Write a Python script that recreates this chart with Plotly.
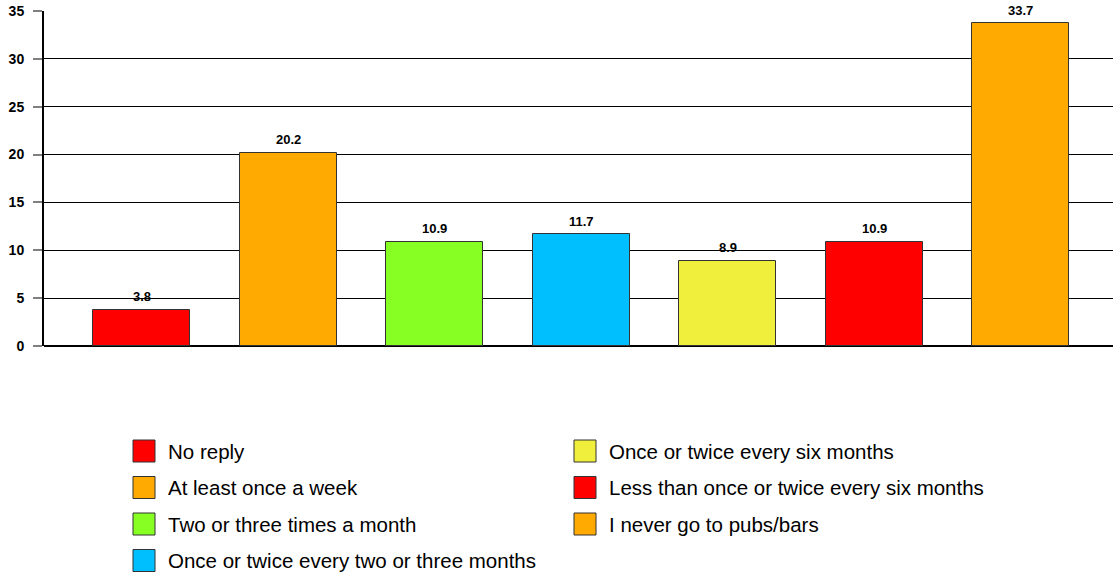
import plotly.graph_objects as go

# Survey answers: how often respondents go to pubs/bars (%)
categories = [
    "No reply",
    "At least once a week",
    "Two or three times a month",
    "Once or twice every two or three months",
    "Once or twice every six months",
    "Less than once or twice every six months",
    "I never go to pubs/bars",
]
values = [3.8, 20.2, 10.9, 11.7, 8.9, 10.9, 33.7]
colors = ["#FF0000", "#FFAA00", "#88FF22", "#00BFFF", "#F0F03C", "#FF0000", "#FFAA00"]
y_ticks = [0, 5, 10, 15, 20, 25, 30, 35]

W, H = 1113, 575
FONT = "Liberation Sans, Arial"
fig = go.Figure()

for i, (name, val, col) in enumerate(zip(categories, values, colors)):
    fig.add_trace(go.Bar(
        x=[i], y=[val], name=name, width=0.662,
        marker=dict(color=col, line=dict(color="#333333", width=1)),
        showlegend=False,
        hovertemplate=f"{name}: %{{y}}<extra></extra>",
    ))
    fig.add_annotation(
        x=i, y=val, text=f"{val}", showarrow=False, yshift=13,
        font=dict(family=FONT, size=13, color="black", weight="bold"),
    )

# Two-column legend below the plot, filled column by column
plot_top, plot_bot, plot_left = 11, 346, 44
plot_h = plot_bot - plot_top


def py(ypx):
    return (plot_bot - ypx) / plot_h


def px(xpx):
    return (xpx - plot_left) / (W - plot_left)


col_x = [133, 574]
row_y = [451, 487.5, 524, 560.5]
sw = 22
for i, (name, col) in enumerate(zip(categories, colors)):
    c, r = (0, i) if i < 4 else (1, i - 4)
    yc = row_y[r]
    fig.add_shape(
        type="rect", xref="paper", yref="paper",
        x0=px(col_x[c]), x1=px(col_x[c] + sw),
        y0=py(yc + sw / 2), y1=py(yc - sw / 2),
        fillcolor=col, line=dict(color="#333333", width=1),
    )
    fig.add_annotation(
        xref="paper", yref="paper", x=px(col_x[c] + 35), y=py(yc),
        text=name, showarrow=False, xanchor="left", yanchor="middle",
        xshift=-2, font=dict(family=FONT, size=20.5, color="black"),
    )

fig.update_layout(
    width=W, height=H,
    margin=dict(l=plot_left, r=0, t=plot_top, b=H - plot_bot),
    plot_bgcolor="white", paper_bgcolor="white",
    bargap=0, showlegend=False,
    xaxis=dict(
        range=[-0.6655, 6.631], showticklabels=False, showgrid=False,
        zeroline=False, showline=False, ticks="",
    ),
    yaxis=dict(
        range=[0, 35], tickvals=y_ticks, showgrid=True, gridcolor="black", gridwidth=1,
        zeroline=True, zerolinecolor="black", zerolinewidth=2,
        showline=True, linecolor="black", linewidth=2,
        ticks="outside", ticklen=9, tickcolor="#808080", tickwidth=2,
        ticklabelstandoff=6,
        tickfont=dict(family=FONT, size=14, color="black", weight="bold"),
    ),
)

fig.write_html("out.html")
